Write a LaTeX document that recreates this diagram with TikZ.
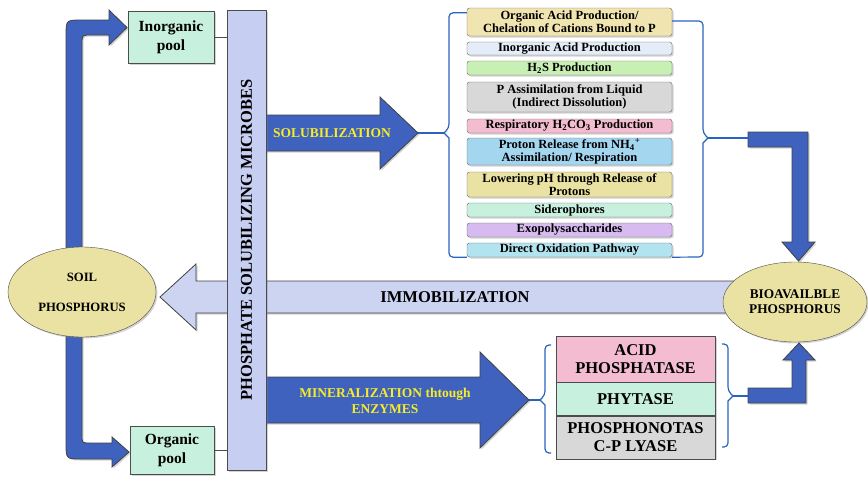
\documentclass[tikz,border=0pt]{standalone}
\usepackage{fontspec}
\setmainfont{Liberation Serif}
\usetikzlibrary{shapes.geometric, positioning, shadows}

\definecolor{arrowblue}{RGB}{62,98,190}
\definecolor{barblue}{RGB}{198,206,242}
\definecolor{immoblue}{RGB}{204,212,242}
\definecolor{mintbox}{RGB}{200,240,222}
\definecolor{khaki}{RGB}{234,226,162}
\definecolor{txtyellow}{RGB}{246,236,40}
\definecolor{bracketblue}{RGB}{40,100,190}
\definecolor{cbeige}{RGB}{240,228,176}
\definecolor{cwhite}{RGB}{228,236,248}
\definecolor{cgreen}{RGB}{200,240,180}
\definecolor{cgray}{RGB}{216,216,216}
\definecolor{cpink}{RGB}{244,188,208}
\definecolor{cblue}{RGB}{164,214,240}
\definecolor{cmint}{RGB}{200,240,222}
\definecolor{clilac}{RGB}{214,186,240}
\definecolor{ccyan}{RGB}{178,228,240}

\tikzset{
    shade/.style={drop shadow={opacity=0.35, shadow xshift=1.5pt, shadow yshift=-1.5pt}},
    poolbox/.style={draw=black!70, fill=mintbox, shade, align=center, inner sep=1pt,
        minimum width=86pt, minimum height=52pt, font=\bfseries\fontsize{15.5}{19}\selectfont},
    itembox/.style={draw=black!60, rounded corners=2.5pt, shade, align=center, inner sep=0pt,
        minimum width=205pt, font=\bfseries\fontsize{12.5}{13}\selectfont},
    enzbox/.style={draw=black!70, shade, align=center, inner sep=0pt,
        minimum width=159pt, font=\bfseries\fontsize{16.5}{18}\selectfont},
    phos/.style={ellipse, draw=black!70, fill=khaki, shade, align=center, inner sep=0pt},
    fatarrow/.style={draw=black!75, fill=arrowblue, line width=0.8pt, shade},
    bracket/.style={draw=bracketblue, line width=1.2pt, rounded corners=4pt},
    yellowtext/.style={text=txtyellow, align=center, font=\bfseries\fontsize{13.5}{16}\selectfont}
}

\begin{document}
\begin{tikzpicture}[x=1pt, y=-1pt]
    \useasboundingbox (0,0) rectangle (868,479);

    % Pools
    \node[poolbox] (inorg) at (171,37) {Inorganic\\pool};
    \node[poolbox, minimum width=84pt, minimum height=48pt] (org) at (172,450) {Organic\\pool};

    % Soil to pools
    \path[fatarrow] (82,258) -- (82,44) .. controls (82,35) .. (91,35) -- (109,35)
        -- (109,45) -- (127,27.5) -- (109,10) -- (109,20) -- (82,20)
        .. controls (66,20) .. (66,36) -- (66,258) -- cycle;
    \path[fatarrow] (66,330) -- (66,443) .. controls (66,459) .. (82,459) -- (112,459)
        -- (112,467) -- (129,452) -- (112,437) -- (112,443) -- (90,443)
        .. controls (82,443) .. (82,435) -- (82,330) -- cycle;

    % Immobilization
    \path[draw=black!75, fill=immoblue, line width=0.8pt, shade] (740,281) -- (196,281)
        -- (196,264) -- (160,297) -- (196,330) -- (196,313) -- (740,313) -- cycle;
    \node[font=\bfseries\fontsize{16.5}{18}\selectfont] (immo) at (455,297) {IMMOBILIZATION};

    % Solubilization and mineralization
    \path[fatarrow] (250,115) -- (380,115) -- (380,97) -- (418,133) -- (380,169)
        -- (380,151) -- (250,151) -- cycle;
    \coordinate (soltip) at (418,133);
    \node[yellowtext] (sol) at (332,133) {SOLUBILIZATION};
    \path[fatarrow] (250,377) -- (480,377) -- (480,352) -- (529,400) -- (480,448)
        -- (480,423) -- (250,423) -- cycle;
    \coordinate (mintip) at (529,400);
    \node[yellowtext] (min) at (385,401) {MINERALIZATION thtough\\ENZYMES};

    % Microbes bar
    \node[draw=black!70, fill=barblue, shade, rotate=90, minimum width=460pt, minimum height=39pt,
        inner sep=0pt, font=\bfseries\fontsize{16.5}{18}\selectfont] (psm) at (246.5,240)
        {PHOSPHATE SOLUBILIZING MICROBES};
    \draw[black!70, line width=0.8pt] (inorg.east) -- (inorg.east -| psm.north);
    \draw[black!70, line width=0.8pt] (org.east) -- (org.east -| psm.north);

    % Soil phosphorus
    \node[phos, minimum width=148pt, minimum height=90pt, font=\bfseries\fontsize{12.7}{30}\selectfont]
        (soil) at (82,292) {SOIL\\PHOSPHORUS};

    % Solubilization mechanisms
    \foreach \n/\y/\h/\c/\t in {
        1/22/28/cbeige/{Organic Acid Production/\\Chelation of Cations Bound to P},
        2/48.5/13/cwhite/{Inorganic Acid Production},
        3/68/14/cgreen/{H\textsubscript{2}S Production},
        4/97/30/cgray/{P Assimilation from Liquid\\(Indirect Dissolution)},
        5/126/14/cpink/{Respiratory H\textsubscript{2}CO\textsubscript{3} Production},
        6/151.5/27/cblue/{Proton Release from NH\textsubscript{4}\textsuperscript{+}\\Assimilation/ Respiration},
        7/184.5/25/khaki/{Lowering pH through Release of\\Protons},
        8/210/14/cmint/{Siderophores},
        9/230/14/clilac/{Exopolysaccharides},
        10/250/14/ccyan/{Direct Oxidation Pathway}} {
        \node[itembox, fill=\c, minimum height=\h pt] (m\n) at (569.5,\y) {\t};
    }

    % Brackets round the mechanisms
    \draw[bracket] (m1.north west) ++(0,5) coordinate (b1) -| (449,128) [sharp corners] -- (444,133) coordinate (lb)
        -- (449,138) [rounded corners=4pt] |- (m10.south west);
    \draw[bracket] (soltip) -- (lb);
    \draw[bracket] (m1.east) ++(0,-1) -- (703,21) -- (703,133) [sharp corners] -- (708,138) coordinate (rb)
        -- (703,143) [rounded corners=4pt] -- (703,257) -- (m10.south east);

    % Bioavailable phosphorus
    \node[phos, minimum width=144pt, minimum height=80pt, font=\bfseries\fontsize{13.3}{15}\selectfont]
        (bio) at (795,302) {BIOAVAILBLE\\PHOSPHORUS};
    \path[fatarrow] (748,132) -- (808,132) -- (808,242) -- (815,242) -- (798.5,261)
        -- (782,242) -- (792,242) -- (792,147) -- (748,147) -- cycle;
    \draw[bracket] (rb) -- (748,138);

    % Enzymes
    \node[enzbox, fill=cpink, minimum height=46pt] (acid) at (635.5,359) {ACID\\PHOSPHATASE};
    \node[enzbox, fill=cmint, minimum height=33pt, below=0pt of acid] (phyt) {PHYTASE};
    \node[enzbox, fill=cgray, minimum height=43pt, below=0pt of phyt] (lyase) {PHOSPHONOTAS\\C-P LYASE};
    \draw[bracket] (551,345) -| (545,395) [sharp corners] -- (540,400) coordinate (eb)
        -- (545,405) [rounded corners=4pt] |- (551,453);
    \draw[bracket] (mintip) -- (eb);
    \draw[bracket] (722,344) -| (728,391) [sharp corners] -- (733,396) coordinate (fb)
        -- (728,401) [rounded corners=4pt] |- (722,447);
    \path[fatarrow] (748,403) -- (806,403) -- (806,360) -- (815,360) -- (799,343)
        -- (783,360) -- (792,360) -- (792,388) -- (748,388) -- cycle;
    \draw[bracket] (fb) -- (748,396);
\end{tikzpicture}
\end{document}
